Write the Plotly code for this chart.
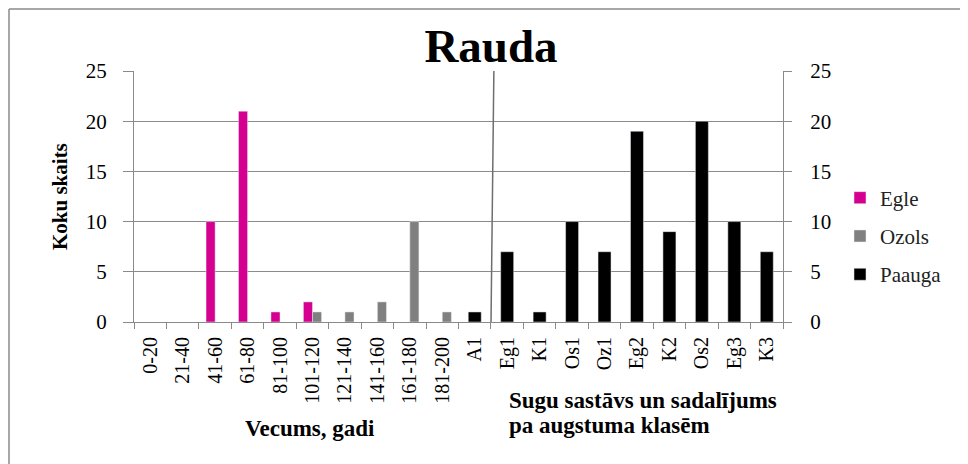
import plotly.graph_objects as go

categories = ["0-20", "21-40", "41-60", "61-80", "81-100", "101-120", "121-140",
              "141-160", "161-180", "181-200", "A1", "Eg1", "K1", "Os1", "Oz1",
              "Eg2", "K2", "Os2", "Eg3", "K3"]
egle = [None, None, 10, 21, 1, 2, None, None, None, None,
        None, None, None, None, None, None, None, None, None, None]
ozols = [None, None, None, None, None, 1, 1, 2, 10, 1,
         None, None, None, None, None, None, None, None, None, None]
paauga = [None, None, None, None, None, None, None, None, None, None,
          1, 7, 1, 10, 7, 19, 9, 20, 10, 7]
y_ticks = [0, 5, 10, 15, 20, 25]

FONT = "Liberation Serif, Times New Roman, serif"
GRID = "#8a8a8a"

OFF = 8  # page body margin
W, H = 968 - OFF, 464 - OFF
# plot area in reference (page) pixels
L, R, T, B = 134, 783, 71, 322


def px(xp):
    return (xp - L) / (R - L)


def py(yp):
    return (B - yp) / (B - T)


fig = go.Figure()
fig.add_trace(go.Bar(x=categories, y=egle, name="Egle", marker_color="#d5008f",
                     offset=-0.28, width=0.28, legendgroup="a"))
fig.add_trace(go.Bar(x=categories, y=ozols, name="Ozols", marker_color="#808080",
                     offset=0.0, width=0.28, legendgroup="b"))
fig.add_trace(go.Bar(x=categories, y=paauga, name="Paauga", marker_color="#000000",
                     offset=-0.2, width=0.4, yaxis="y2", legendgroup="c"))

fig.update_layout(
    width=W, height=H,
    margin=dict(l=L - OFF, r=968 - R, t=T - OFF, b=464 - B),
    paper_bgcolor="white", plot_bgcolor="white",
    barmode="overlay",
    font=dict(family=FONT, size=20, color="black"),
    title=dict(text="<b>Rauda</b>", x=(491 - OFF) / W, xanchor="center",
               y=(464 - 46) / H, yanchor="middle", yref="container",
               font=dict(family=FONT, size=47, color="black")),
    xaxis=dict(type="category", categoryorder="array", categoryarray=categories,
               range=[-0.5, len(categories) - 0.5],
               tickangle=-90, tickson="boundaries", ticks="outside", ticklen=6,
               tickcolor=GRID, showline=True, linecolor=GRID, linewidth=1,
               showgrid=False, ticklabelstandoff=6,
               tickfont=dict(family=FONT, size=20, color="black")),
    yaxis=dict(range=[0, 25], tickvals=y_ticks, showgrid=True, gridcolor=GRID,
               gridwidth=1, zeroline=False, showline=True, linecolor=GRID,
               ticks="outside", ticklen=10, tickcolor=GRID, ticklabelstandoff=12,
               tickfont=dict(family=FONT, size=21, color="black")),
    yaxis2=dict(range=[0, 25], tickvals=y_ticks, overlaying="y", side="right",
                showgrid=False, zeroline=False, showline=True, linecolor=GRID,
                ticks="outside", ticklen=8, tickcolor=GRID, ticklabelstandoff=14,
                tickfont=dict(family=FONT, size=21, color="black")),
    legend=dict(x=px(840), xanchor="left", y=py(236), yanchor="middle",
                traceorder="grouped", tracegroupgap=8,
                font=dict(family=FONT, size=21, color="#222222"),
                bgcolor="rgba(0,0,0,0)"),
    showlegend=True,
)

# divider between age classes and height classes
fig.add_shape(type="line", xref="x", yref="y", x0=10.59, y0=25, x1=10.5, y1=-0.6,
              line=dict(color="#6e6e6e", width=1.5))

# outer frame (top and left edges visible)
fig.add_shape(type="line", xref="paper", yref="paper", x0=px(9), y0=py(9),
              x1=px(980), y1=py(9), line=dict(color="#8a8a8a", width=1.5))
fig.add_shape(type="line", xref="paper", yref="paper", x0=px(9), y0=py(9),
              x1=px(9), y1=py(480), line=dict(color="#8a8a8a", width=1.5))

fig.add_annotation(text="<b>Koku skaits</b>", xref="paper", yref="paper",
                   x=px(60), y=py(197), textangle=-90, showarrow=False,
                   xanchor="center", yanchor="middle",
                   font=dict(family=FONT, size=21, color="black"))
fig.add_annotation(text="<b>Vecums, gadi</b>", xref="paper", yref="paper",
                   x=px(310), y=py(428), showarrow=False,
                   xanchor="center", yanchor="middle",
                   font=dict(family=FONT, size=23, color="black"))
fig.add_annotation(text="<b>Sugu sastāvs un sadalījums</b>", xref="paper", yref="paper",
                   x=px(507), y=py(400), showarrow=False,
                   xanchor="left", yanchor="middle",
                   font=dict(family=FONT, size=23, color="black"))
fig.add_annotation(text="<b>pa augstuma klasēm</b>", xref="paper", yref="paper",
                   x=px(507), y=py(425), showarrow=False,
                   xanchor="left", yanchor="middle",
                   font=dict(family=FONT, size=23, color="black"))

fig.write_html("out.html")
